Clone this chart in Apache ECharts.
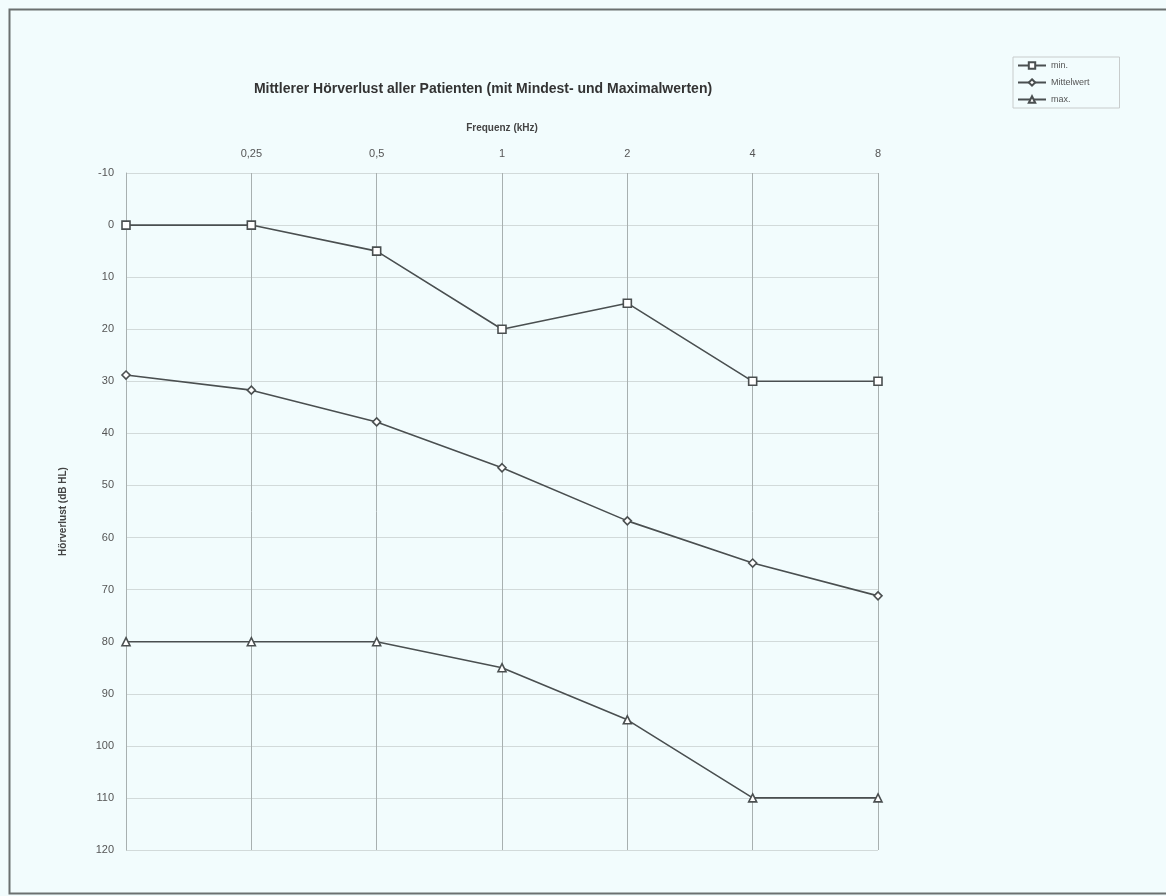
<!DOCTYPE html>
<html>
<head>
<meta charset="utf-8">
<script src="https://cdn.jsdelivr.net/npm/echarts@6/dist/echarts.min.js"></script>
<style>
  html, body { margin: 0; padding: 0; background: #f2fcfd; }
  #chart { width: 1166px; height: 896px; }
</style>
</head>
<body>
<div id="chart"></div>
<script>
const frequencies = ["", "0,25", "0,5", "1", "2", "4", "8"];
const minValues = [0, 0, 5, 20, 15, 30, 30];
const meanValues = [28.8, 31.7, 37.8, 46.6, 56.8, 64.9, 71.2];
const maxValues = [80, 80, 80, 85, 95, 110, 110];
const seriesNames = ["min.", "Mittelwert", "max."];
const symbols = ["rect", "diamond", "triangle"];

const myChart = echarts.init(document.getElementById("chart"));
const lineColor = "#4a4f50";

const options = {
  backgroundColor: "#f2fcfd",
  animation: false,
  textStyle: { fontFamily: "Liberation Sans, Arial, sans-serif" },
  title: {
    text: "Mittlerer Hörverlust aller Patienten (mit Mindest- und Maximalwerten)",
    left: 478,
    top: 77,
    textAlign: "center",
    textStyle: { fontSize: 14, fontWeight: "bold", color: "#333" },
  },
  legend: {
    orient: "vertical",
    left: 1013,
    top: 57,
    itemWidth: 28,
    itemHeight: 8,
    itemGap: 8,
    padding: [4, 30, 4, 4],
    borderColor: "#c8cccc",
    borderWidth: 1,
    textStyle: { fontSize: 9, color: "#555" },
    data: seriesNames,
  },
  grid: {
    left: 126,
    right: 288,
    top: 173,
    bottom: 46,
  },
  xAxis: {
    type: "category",
    position: "top",
    boundaryGap: false,
    data: frequencies,
    name: "Frequenz (kHz)",
    nameLocation: "middle",
    nameGap: 40,
    nameTextStyle: { fontSize: 10, fontWeight: "bold", color: "#444" },
    axisLine: { show: false },
    axisTick: { show: false },
    axisLabel: { color: "#555", fontSize: 11, margin: 14 },
    splitLine: { show: true, lineStyle: { color: "#a8b0b0", width: 1 } },
  },
  yAxis: {
    type: "value",
    inverse: true,
    min: -10,
    max: 120,
    interval: 10,
    name: "Hörverlust (dB HL)",
    nameLocation: "middle",
    nameGap: 58,
    nameTextStyle: { fontSize: 10, fontWeight: "bold", color: "#444" },
    axisLine: { show: true, lineStyle: { color: "#a8b0b0" } },
    axisTick: { show: false },
    axisLabel: { color: "#555", fontSize: 11, margin: 12 },
    splitLine: { show: true, lineStyle: { color: "#d2dada", width: 1 } },
  },
  graphic: [
    {
      type: "rect",
      left: 7,
      top: 7,
      shape: { width: 1160, height: 884 },
      style: { fill: null, stroke: "#6b7070", lineWidth: 2 },
      silent: true,
    },
  ],
  series: [minValues, meanValues, maxValues].map((data, index) => ({
    name: seriesNames[index],
    type: "line",
    data,
    symbol: symbols[index],
    symbolSize: 8,
    showAllSymbol: true,
    lineStyle: { color: lineColor, width: 1.6 },
    itemStyle: { color: "#ffffff", borderColor: lineColor, borderWidth: 1.6 },
  })),
};

myChart.setOption(options);
</script>
</body>
</html>
